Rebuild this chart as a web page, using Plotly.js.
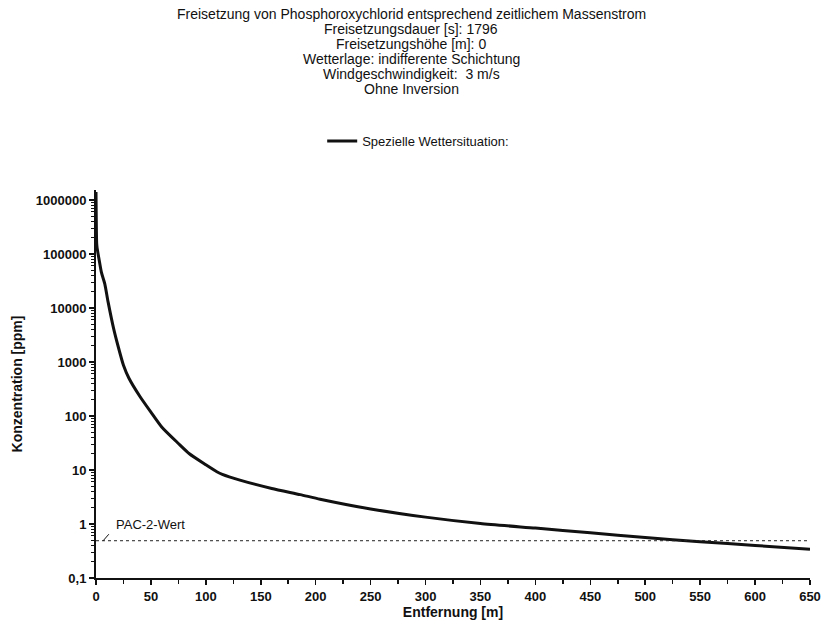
<!DOCTYPE html>
<html>
<head>
<meta charset="utf-8">
<script src="https://cdn.plot.ly/plotly-3.0.1.min.js"></script>
<style>html,body{margin:0;padding:0;background:#fff;}#chart{width:822px;height:620px;}</style>
</head>
<body>
<div id="chart"></div>
<script>
// Distance from source [m]
const distance = [0, 0.6, 1, 3, 5, 8, 11, 16, 20, 25, 30, 40, 50, 60, 75, 85, 100, 110, 115, 131, 160, 186, 204, 250, 300, 350, 400, 450, 500, 550, 600, 650];
// Concentration [ppm]
const concentration = [1400000, 160000, 130000, 75000, 45000, 28000, 13000, 4200, 2000, 870, 500, 230, 118, 62, 31, 20, 12.5, 9.3, 8.3, 6.5, 4.55, 3.5, 2.88, 1.9, 1.34, 1.02, 0.84, 0.69, 0.56, 0.47, 0.40, 0.34];
// PAC-2 threshold [ppm]
const pac2Value = 0.49;
const xRange = [0, 650];
const yTickVals = [1000000, 100000, 10000, 1000, 100, 10, 1, 0.1];
const yTickText = ['1000000', '100000', '10000', '1000', '100', '10', '1', '0,1'];
const xTickVals = [0, 50, 100, 150, 200, 250, 300, 350, 400, 450, 500, 550, 600, 650];

const titleLines = [
  'Freisetzung von Phosphoroxychlorid entsprechend zeitlichem Massenstrom',
  'Freisetzungsdauer [s]: 1796',
  'Freisetzungshöhe [m]: 0',
  'Wetterlage: indifferente Schichtung',
  'Windgeschwindigkeit:  3 m/s',
  'Ohne Inversion'
];

const yMinor = [];
for (let e = -1; e <= 6; e++) for (let d = 2; d <= 9; d++) yMinor.push(d * Math.pow(10, e));
const xMinor = [];
for (let v = 25; v < 650; v += 50) xMinor.push(v);

const FONT = 'Liberation Sans, Arial, sans-serif';

// plot area geometry in pixels (for placing header texts in paper coords)
const PLOT_LEFT = 96, PLOT_RIGHT = 810, PLOT_TOP = 190, PLOT_BOTTOM = 578;
const pxToPaperX = px => (px - PLOT_LEFT) / (PLOT_RIGHT - PLOT_LEFT);
const pxToPaperY = py => (PLOT_BOTTOM - py) / (PLOT_BOTTOM - PLOT_TOP);

const traces = [
  {
    x: distance, y: concentration, type: 'scatter', mode: 'lines',
    name: 'Spezielle Wettersituation:',
    line: {color: '#111', width: 3, shape: 'spline', smoothing: 0.6},
    hoverinfo: 'skip'
  },
  {
    x: xRange, y: [pac2Value, pac2Value], type: 'scatter', mode: 'lines',
    showlegend: false,
    line: {color: '#222', width: 1, dash: 'dot'},
    hoverinfo: 'skip'
  }
];

const titleAnnotations = titleLines.map((t, i) => ({
  text: t, xref: 'paper', yref: 'paper',
  x: pxToPaperX(411), y: pxToPaperY(14 + 15 * i),
  xanchor: 'center', yanchor: 'middle', showarrow: false,
  font: {family: FONT, size: 14, color: '#111'}
}));

const layout = {
  width: 822, height: 620,
  paper_bgcolor: '#fff', plot_bgcolor: '#fff',
  margin: {l: PLOT_LEFT, r: 822 - PLOT_RIGHT, t: PLOT_TOP, b: 620 - PLOT_BOTTOM},
  font: {family: FONT, color: '#111'},
  showlegend: true,
  legend: {
    x: pxToPaperX(96 + 0.3168 * 714), xanchor: 'left', xref: 'paper',
    y: pxToPaperY(141), yanchor: 'middle', yref: 'paper',
    font: {family: FONT, size: 13, color: '#111'},
    bgcolor: 'rgba(0,0,0,0)'
  },
  xaxis: {
    range: xRange, showgrid: false, zeroline: false,
    showline: true, linecolor: '#111', linewidth: 2,
    ticks: 'outside', ticklen: 5, tickwidth: 1.5, tickcolor: '#111',
    tickmode: 'array', tickvals: xTickVals,
    tickfont: {family: FONT, size: 13, color: '#111', weight: 'bold'},
    minor: {tickmode: 'array', tickvals: xMinor, ticks: 'outside', ticklen: 4, tickwidth: 1.5, tickcolor: '#111', showgrid: false},
    title: {text: '<b>Entfernung [m]</b>', font: {family: FONT, size: 14, color: '#111'}, standoff: 4}
  },
  yaxis: {
    type: 'log', range: [-1, 6.185], showgrid: false, zeroline: false,
    showline: true, linecolor: '#111', linewidth: 2,
    ticks: 'outside', ticklen: 5, tickwidth: 1.5, tickcolor: '#111',
    tickmode: 'array', tickvals: yTickVals, ticktext: yTickText,
    tickfont: {family: FONT, size: 13, color: '#111', weight: 'bold'},
    minor: {tickmode: 'array', tickvals: yMinor, ticks: 'outside', ticklen: 3, tickwidth: 1, tickcolor: '#111', showgrid: false},
    title: {text: '<b>Konzentration [ppm]</b>', font: {family: FONT, size: 14, color: '#111'}, standoff: 10}
  },
  annotations: titleAnnotations.concat([
    {
      x: 16, y: 0, xref: 'x', yref: 'y', text: 'PAC-2-Wert',
      showarrow: false, xanchor: 'left', yanchor: 'middle',
      font: {family: FONT, size: 13, color: '#111'}
    },
    {
      x: 6.5, y: Math.log10(pac2Value), xref: 'x', yref: 'y', text: '',
      showarrow: true, arrowhead: 0, arrowwidth: 1, arrowcolor: '#111',
      ax: 7, ay: -8
    }
  ])
};

Plotly.newPlot('chart', traces, layout, {displayModeBar: false, staticPlot: true});
</script>
</body>
</html>
